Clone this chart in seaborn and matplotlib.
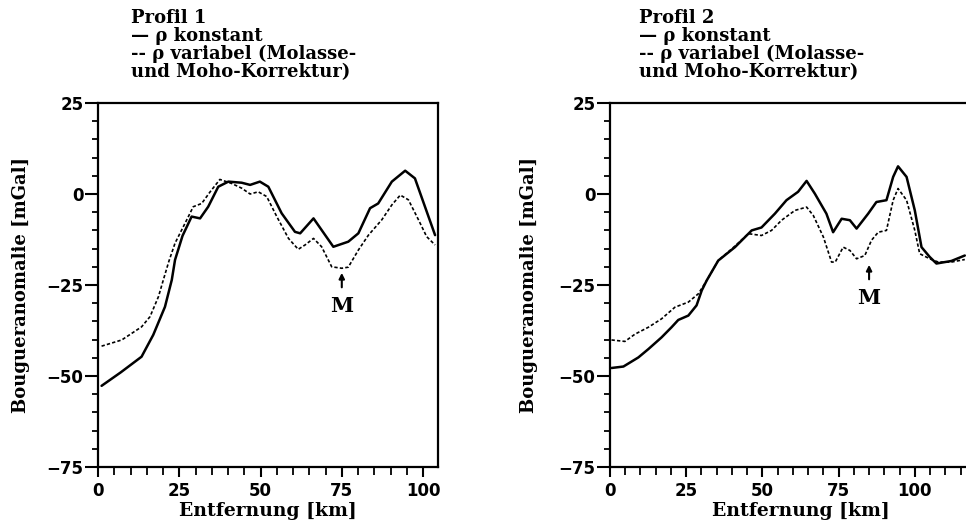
import matplotlib
matplotlib.use("Agg")
import matplotlib.pyplot as plt
import seaborn as sns
import pandas as pd
from matplotlib.ticker import MultipleLocator

# ---------------- data ----------------
p1_const_x = [1.1, 7.0, 13.4, 17.0, 20.6, 22.7, 23.7, 26.0, 28.8, 31.4, 33.9, 37.0, 40.1, 44.2, 46.8,
              49.8, 52.4, 56.5, 60.6, 62.2, 66.3, 68.8, 72.4, 77.0, 80.1, 83.7, 86.2, 90.4, 94.5,
              97.5, 100.6, 103.7]
p1_const_y = [-52.7, -49.0, -44.7, -38.7, -31.0, -23.6, -18.1, -11.5, -6.2, -6.7, -3.5, 2.0, 3.4, 3.1, 2.5,
              3.4, 2.0, -5.3, -10.4, -10.8, -6.7, -9.9, -14.5, -13.1, -10.8, -3.9, -2.6, 3.4, 6.4,
              4.3, -3.5, -11.3]
p1_var_x = [1.1, 7.3, 13.4, 16.0, 18.6, 20.1, 21.8, 23.7, 26.8, 29.3, 31.9, 34.5, 37.5, 41.1, 44.2,
            46.8, 49.3, 51.9, 55.0, 58.6, 61.6, 63.7, 66.3, 68.8, 71.9, 75.0, 77.0, 80.1, 83.2,
            87.3, 90.4, 93.0, 95.5, 98.6, 101.1, 103.7]
p1_var_y = [-41.8, -40.1, -36.5, -33.7, -28.2, -23.6, -18.5, -13.5, -8.0, -3.5, -2.6, 0.6, 4.0, 2.9, 1.6,
            0.0, 0.6, -0.7, -6.2, -12.2, -15.2, -14.0, -12.2, -14.5, -20.0, -20.4, -20.1, -15.4, -11.3,
            -7.1, -3.0, -0.3, -1.6, -7.1, -11.7, -14.0]

p2_const_x = [0.5, 4.4, 9.3, 12.6, 16.9, 20.2, 22.4, 25.7, 28.4, 30.1, 31.7, 35.5, 41.0, 46.5, 49.7,
              54.1, 57.9, 61.7, 64.5, 67.2, 71.0, 73.2, 76.0, 78.7, 80.9, 84.7, 87.4, 90.7, 92.9,
              94.5, 97.3, 100.0, 102.2, 104.9, 107.1, 112.0, 116.4]
p2_const_y = [-47.8, -47.4, -44.9, -42.6, -39.4, -36.6, -34.6, -33.4, -30.6, -26.5, -23.8, -18.3, -14.6, -10.0, -9.2,
              -5.4, -1.7, 0.6, 3.6, 0.1, -5.4, -10.5, -6.8, -7.2, -9.5, -5.4, -2.2, -1.7, 4.7,
              7.6, 4.7, -4.5, -14.6, -17.3, -19.1, -18.4, -16.9]
p2_var_x = [0.5, 4.9, 8.2, 12.6, 16.9, 21.3, 25.7, 29.0, 31.7, 35.5, 41.0, 45.4, 49.7, 53.0, 56.3,
            60.7, 64.5, 66.7, 70.0, 72.7, 73.9, 76.5, 78.7, 80.9, 83.6, 85.8, 88.0, 90.7, 92.9,
            94.5, 97.3, 100.0, 101.6, 104.9, 107.7, 112.0, 116.4]
p2_var_y = [-40.1, -40.5, -38.5, -36.6, -34.3, -31.1, -29.7, -27.4, -23.8, -18.3, -14.3, -10.9, -11.4, -10.0, -7.2,
            -4.5, -3.6, -5.9, -11.8, -18.7, -18.7, -14.6, -15.5, -17.8, -16.9, -12.7, -10.5, -10.0, -1.7,
            1.5, -1.7, -10.0, -16.4, -17.8, -18.7, -18.7, -18.0]

legend_lines_1 = ["Profil 1", "\u2014 \u03c1 konstant", "-- \u03c1 variabel (Molasse-", "und Moho-Korrektur)"]
legend_lines_2 = ["Profil 2", "\u2014 \u03c1 konstant", "-- \u03c1 variabel (Molasse-", "und Moho-Korrektur)"]
x_ticks = [0, 25, 50, 75, 100]
y_ticks = [-75, -50, -25, 0, 25]
marker_1 = (75, -20.9)
marker_2 = (85, -18.7)

# ---------------- figure ----------------
sns.set_style("white")
plt.rcParams['font.family'] = ['DejaVu Serif']
plt.rcParams['font.weight'] = 'bold'
for key in ['text.color', 'axes.labelcolor', 'xtick.color', 'ytick.color', 'axes.edgecolor']:
    plt.rcParams[key] = 'black'

W, H = 966, 526
fig = plt.figure(figsize=(W / 100, H / 100), dpi=100)

ax1 = fig.add_axes([98 / W, (H - 467) / H, 340 / W, 364 / H])
ax2 = fig.add_axes([610 / W, (H - 467) / H, 381 / W, 364 / H])

panels = [
    (ax1, p1_const_x, p1_const_y, p1_var_x, p1_var_y, legend_lines_1, (0, 104.6), marker_1, 131),
    (ax2, p2_const_x, p2_const_y, p2_var_x, p2_var_y, legend_lines_2, (0, 125), marker_2, 639),
]

for ax, cx, cy, vx, vy, leg, xl, mk, legx in panels:
    dfc = pd.DataFrame({"x": cx, "y": cy})
    dfv = pd.DataFrame({"x": vx, "y": vy})
    sns.lineplot(data=dfc, x="x", y="y", ax=ax, color="black", lw=1.8, sort=False)
    sns.lineplot(data=dfv, x="x", y="y", ax=ax, color="black", lw=1.2, sort=False,
                 linestyle=(0, (2.0, 1.3)))
    ax.set_xlim(*xl)
    ax.set_ylim(-75, 25)
    ax.set_xticks(x_ticks)
    ax.set_yticks(y_ticks)
    ax.xaxis.set_minor_locator(MultipleLocator(5))
    ax.yaxis.set_minor_locator(MultipleLocator(5))
    ax.tick_params(axis="y", which="major", direction="out", length=9.5, width=1.5, pad=1,
                   left=True, labelsize=12, colors="black")
    ax.tick_params(axis="y", which="minor", direction="out", length=4, width=1.3, left=True,
                   colors="black")
    ax.tick_params(axis="x", which="major", direction="out", length=7, width=1.5, pad=4,
                   bottom=True, labelsize=12, colors="black")
    ax.tick_params(axis="x", which="minor", direction="out", length=6, width=1.3, bottom=True,
                   colors="black")
    for lab in ax.get_xticklabels() + ax.get_yticklabels():
        lab.set_fontfamily("DejaVu Sans")
        lab.set_fontweight("bold")
    for s in ax.spines.values():
        s.set_linewidth(1.6)
        s.set_color("black")
    ax.set_xlabel("Entfernung [km]", fontsize=13.5, fontweight="bold", labelpad=1, color="black")
    ax.set_ylabel("Bougueranomalie [mGal]", fontsize=13, fontweight="bold", color="black")
    # M marker
    ax.annotate("", xy=mk, xytext=(mk[0], mk[1] - 5.5),
                arrowprops=dict(arrowstyle="-|>", color="black", lw=1.5, mutation_scale=8))
    ax.text(mk[0], mk[1] - 9.8, "M", ha="center", va="center", fontsize=15, fontweight="bold",
            color="black")
    # legend block
    fig.text(legx / W, 1 - 9 / H, "\n".join(leg), ha="left", va="top", fontsize=13,
             fontweight="bold", linespacing=1.0, color="black")

ax1.yaxis.set_label_coords(-0.2, 0.5)
ax2.yaxis.set_label_coords(-0.19, 0.5)

fig.savefig("out.png", dpi=100)
